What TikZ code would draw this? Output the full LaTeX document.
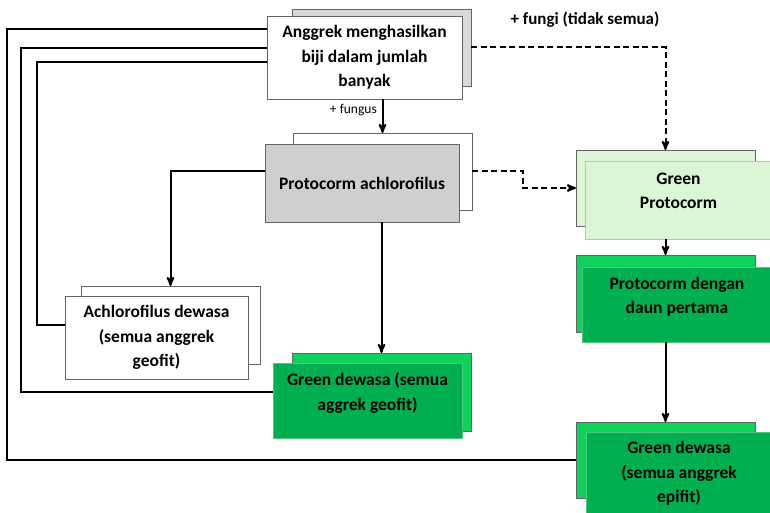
\documentclass[tikz,border=0pt]{standalone}
\usepackage{fontspec}
\setmainfont{Carlito}
\usepackage{tikz}
\usetikzlibrary{arrows,positioning}

\definecolor{cardline}{HTML}{646464}
\definecolor{shadegray}{HTML}{D9D9D9}
\definecolor{boxgray}{HTML}{D0CECE}
\definecolor{paleleaf}{HTML}{DAF6D5}
\definecolor{paleline}{HTML}{A9D39A}
\definecolor{brightleaf}{HTML}{10D05E}
\definecolor{leaf}{HTML}{00B050}
\definecolor{leafline}{HTML}{4CC97A}

\tikzset{
  card/.style={rectangle, draw=cardline, line width=0.9pt, inner sep=0pt, outer sep=0pt,
    align=center, font=\fontsize{17.5}{24.5}\selectfont\bfseries},
  txt/.style={align=center, inner sep=0pt, font=\fontsize{17.5}{24.5}\selectfont\bfseries},
  link/.style={line width=2pt},
  dashline/.style={dash pattern=on 6pt off 3.5pt}
}

\begin{document}
\begin{tikzpicture}[x=1pt,y=-1pt,>=stealth']
\useasboundingbox[fill=white] (0,0) rectangle (770,513);
% kartu belakang
\node[card,fill=shadegray,minimum width=179pt,minimum height=77pt] (Ab) at (381.5,47.5) {};
\node[card,fill=white,minimum width=179pt,minimum height=77pt] (Bb) at (382.5,171.5) {};
\node[card,fill=paleleaf,minimum width=179pt,minimum height=76pt] (Cb) at (665.5,188) {};
\node[card,fill=brightleaf,minimum width=179pt,minimum height=77pt] (Db) at (665.5,293.5) {};
\node[card,fill=brightleaf,minimum width=179pt,minimum height=76pt] (Eb) at (665.5,460) {};
\node[card,fill=brightleaf,minimum width=179pt,minimum height=78pt] (Fb) at (381.5,392) {};
\node[card,fill=white,minimum width=179pt,minimum height=78pt] (Gb) at (170.5,325) {};
% kartu depan
\node[card,fill=white,minimum width=195pt,minimum height=83pt] (A) at (364.5,57.5) {Anggrek menghasilkan\\biji dalam jumlah\\banyak};
\node[card,fill=boxgray,minimum width=194pt,minimum height=78pt] (B) at (362,183) {Protocorm achlorofilus};
\node[card,draw=paleline,fill=paleleaf,minimum width=187pt,minimum height=78pt] (C) at (678.5,200) {};
\node[card,draw=leafline,fill=leaf,minimum width=190pt,minimum height=75pt] (D) at (677,304.5) {};
\node[card,draw=leafline,fill=leaf,minimum width=186pt,minimum height=83pt] (E) at (679,473.5) {Green dewasa\\(semua anggrek\\epifit)};
\node[card,draw=leafline,fill=leaf,minimum width=189pt,minimum height=75pt] (F) at (367.5,400.5) {};
\node[card,fill=white,minimum width=183pt,minimum height=83pt] (G) at (156.5,337.5) {Achlorofilus dewasa\\(semua anggrek\\geofit)};
% teks kartu
\node[txt] (Ct) at ([yshift=9pt]C.center) {Green\\Protocorm};
\node[txt] (Dt) at ([yshift=8pt]D.center) {Protocorm dengan\\daun pertama};
\node[txt] (Ft) at ([yshift=7.5pt]F.center) {Green dewasa (semua\\aggrek geofit)};
% label
\node[anchor=east,inner sep=0pt,font=\fontsize{13.5}{15}\selectfont] (fungus) at (377,110) {+ fungus};
\node[inner sep=0pt,font=\fontsize{17}{19}\selectfont\bfseries] (fungi) at (585,20) {+ fungi (tidak semua)};

\draw[link,->] (A.south -| Bb.north) -- (Bb.north);
\draw[link,dashline,->] (Ab.east) -| (Cb.north);
\draw[link,dashline,->] (Bb.east) -- ++(51,0) |- (Cb.west);
\draw[link,->] (B.west |- Bb.center) -| (Gb.north);
\draw[link,->] (B.south -| Fb.north) -- (Fb.north);
\draw[link,->] (C.south -| Db.north) -- (Db.north);
\draw[link,->] (D.south -| Eb.north) -- (Eb.north);
% kembali ke A
\draw[link] (G.west |- Gb.center) -| (37,62) -- (A.west |- 0,62);
\draw[link] (F.west |- Fb.center) -| (21,48) -- (A.west |- 0,48);
\draw[link] (Eb.west) -| (7,29) -- (A.west |- 0,29);
\end{tikzpicture}
\end{document}
